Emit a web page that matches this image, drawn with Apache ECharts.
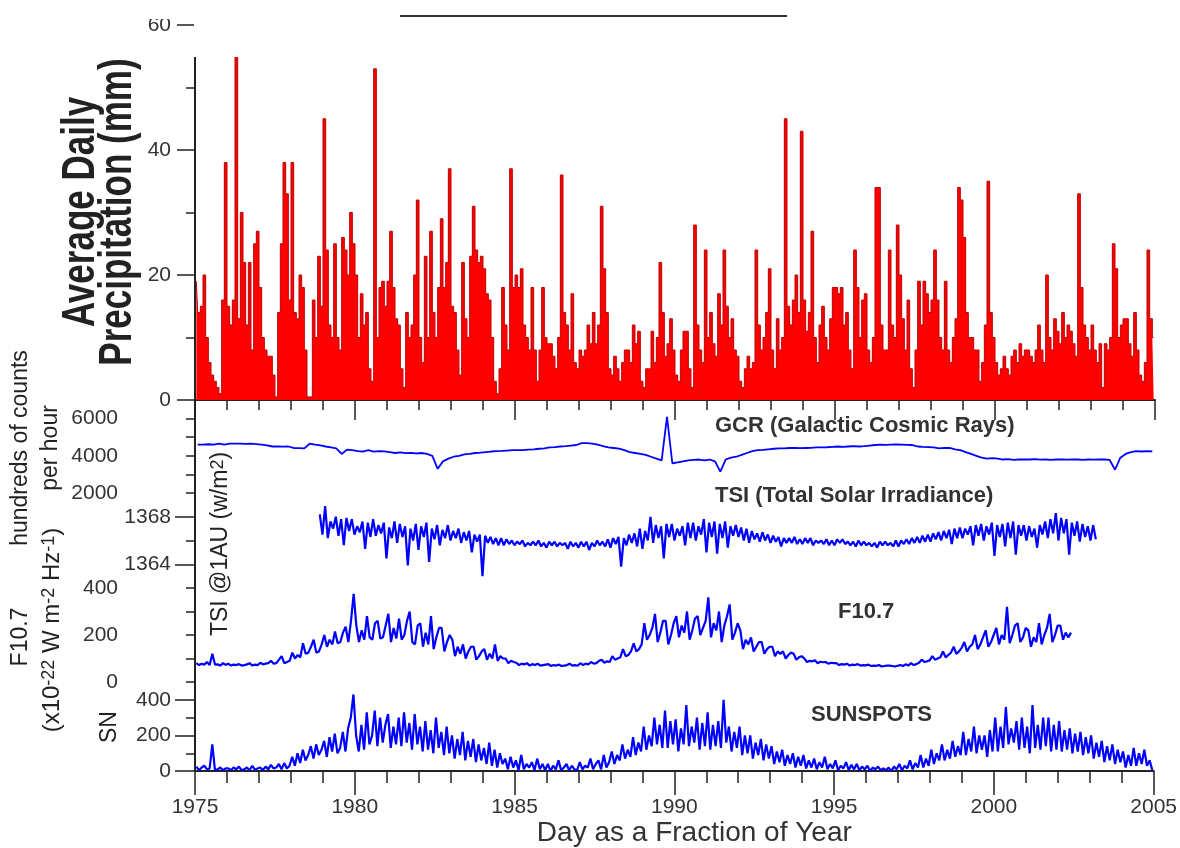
<!DOCTYPE html>
<html><head><meta charset="utf-8">
<script src="https://cdn.jsdelivr.net/npm/echarts@6/dist/echarts.min.js"></script>
<style>html,body{margin:0;padding:0;background:#fff}#c{width:1180px;height:848px}</style>
</head><body><div id="c"></div>
<script>
// ---------------- DATA ----------------
const xTickYears = [1975, 1980, 1985, 1990, 1995, 2000, 2005];

// Average daily precipitation (mm), 12 samples per year, 1975-2004
const precipStart = 1975, precipPerYear = 12;
const precipitation = [
 19,14,15,20,10,6,4,3,2,1,16,38,
 15,12,16,58,13,30,22,12,22,8,25,27,
 18,10,8,7,7,4,0.5,14,25,38,33,16,
 38,14,13,20,18,8,0.5,0.5,16,10,23,15,
 45,24,12,10,25,10,8,26,24,20,30,25,
 20,10,17,12,14,5,3,53,10,18,19,15,
 19,27,18,13,12,5,2,14,10,12,20,32,
 10,6,23,10,27,14,10,18,29,18,22,37,
 15,14,8,4,22,13,10,23,31,24,22,23,
 21,17,16,10,3,1,5,18,12,8,37,18,
 20,18,21,12,10,8,18,8,3,8,18,10,
 9,9,7,5,10,36,14,12,8,17,6,5,
 8,7,8,12,9,14,9,12,31,21,14,5,
 4,7,5,3,6,8,8,6,12,9,11,3,
 2,5,5,11,6,10,22,14,7,9,13,8,
 4,3,8,11,11,5,2,28,12,8,6,24,
 10,14,9,7,17,12,24,15,10,13,8,7,
 3,2,5,7,5,6,24,12,8,10,14,21,
 8,5,13,8,10,45,15,12,16,20,14,43,
 16,11,14,27,10,6,12,15,10,8,13,18,
 18,17,18,12,14,8,5,24,18,10,16,17,
 8,6,10,34,34,12,8,8,24,12,10,28,
 20,13,8,16,5,2,8,19,12,19,17,14,
 16,24,16,10,8,19,8,6,10,13,34,32,
 26,14,10,10,8,8,3,6,12,35,14,10,
 6,4,5,7,5,4,7,8,6,9,7,8,
 8,7,6,8,12,8,6,20,10,8,13,11,
 9,14,10,12,11,9,7,33,18,12,10,8,
 12,8,6,9,2,9,8,10,25,21,10,12,
 13,13,9,7,14,8,4,3,6,24,13,10
];

// GCR (hundreds of counts per hour), 6 samples per year, 1975-2004
const gcrStart = 1975, gcrPerYear = 6;
const gcr = [
 4600,4600,4620,4600,4650,4600, 4650,4650,4650,4640,4650,4630,
 4600,4560,4500,4500,4490,4500, 4420,4410,4400,4650,4600,4560,
 4500,4450,4400,4100,4330,4300, 4250,4230,4300,4220,4250,4240,
 4200,4150,4180,4140,4150,4130, 4150,4100,4000,3300,3700,3850,
 3950,4000,4080,4100,4150,4170, 4200,4230,4250,4260,4280,4300,
 4300,4310,4330,4350,4380,4400, 4450,4470,4500,4520,4550,4580,
 4680,4680,4650,4600,4520,4450, 4420,4380,4300,4200,4150,4100,
 4050,3950,3850,3750,6100,3600, 3650,3700,3750,3780,3800,3750,
 3800,3700,3150,3800,3900,3950, 4050,4150,4250,4300,4320,4350,
 4380,4400,4400,4420,4420,4410, 4420,4430,4450,4450,4460,4480,
 4500,4480,4500,4520,4500,4520, 4550,4580,4600,4590,4600,4610,
 4600,4590,4580,4500,4480,4470, 4450,4400,4430,4420,4350,4300,
 4200,4100,4000,3900,3850,3870, 3850,3800,3820,3780,3800,3810,
 3800,3820,3790,3800,3780,3800, 3800,3790,3810,3800,3780,3800,
 3790,3800,3800,3780,3250,3900, 4100,4200,4250,4230,4250,4240
];

// TSI @1AU (W/m2), 12 samples per year starting 1978.9
const tsiStart = 1978.9, tsiPerYear = 12;
const tsi = [
 1368.2,1366.5,1368.9,1366.2,1367.6,1367.0,1368.0,1366.4,1367.8,1365.6,1367.9,1366.8,
 1367.8,1366.5,1367.2,1366.7,1367.6,1365.3,1367.5,1366.3,1367.8,1366.4,1367.3,1366.6,
 1367.5,1364.5,1367.1,1366.2,1367.6,1365.8,1367.4,1366.3,1367.2,1363.9,1367.0,1366.0,
 1367.4,1365.2,1367.2,1366.3,1367.5,1364.2,1367.0,1366.1,1367.3,1365.6,1366.9,1366.2,
 1367.3,1366.0,1366.8,1366.2,1367.0,1365.8,1366.7,1366.0,1366.8,1365.0,1366.5,1365.9,
 1366.5,1363.0,1366.4,1365.8,1366.3,1365.7,1366.2,1365.6,1366.2,1365.6,1366.1,1365.7,
 1366.0,1365.6,1365.9,1365.7,1366.0,1365.5,1365.8,1365.6,1365.9,1365.6,1366.0,1365.5,
 1365.8,1365.4,1365.9,1365.6,1365.9,1365.5,1365.8,1365.6,1365.8,1365.3,1365.9,1365.5,
 1365.8,1365.4,1365.9,1365.5,1365.9,1365.2,1365.8,1365.5,1366.0,1365.6,1365.9,1365.5,
 1366.1,1365.4,1366.2,1365.7,1366.3,1363.8,1366.2,1365.6,1366.5,1365.8,1366.6,1365.5,
 1367.0,1365.3,1366.8,1366.0,1368.0,1365.8,1367.3,1366.2,1367.2,1364.5,1367.4,1366.3,
 1367.4,1366.0,1367.0,1366.4,1367.2,1365.6,1367.5,1366.2,1367.5,1366.0,1367.2,1366.5,
 1367.8,1365.0,1367.5,1366.3,1367.6,1364.9,1367.4,1366.2,1367.6,1365.4,1367.2,1366.4,
 1367.3,1366.3,1367.1,1366.0,1367.0,1365.8,1366.8,1366.1,1366.6,1365.9,1366.7,1366.0,
 1366.5,1365.8,1366.4,1365.9,1366.3,1365.5,1366.2,1365.8,1366.2,1365.8,1366.3,1365.7,
 1366.1,1365.7,1366.2,1365.8,1366.2,1365.6,1366.0,1365.8,1366.0,1365.7,1366.1,1365.6,
 1366.0,1365.6,1366.1,1365.8,1366.1,1365.7,1365.9,1365.6,1365.9,1365.5,1366.0,1365.6,
 1365.9,1365.6,1365.8,1365.5,1365.8,1365.4,1365.9,1365.6,1365.9,1365.6,1365.8,1365.5,
 1366.0,1365.5,1366.0,1365.7,1366.1,1365.7,1366.2,1365.8,1366.3,1365.8,1366.4,1365.9,
 1366.5,1365.9,1366.6,1366.1,1366.7,1366.0,1366.8,1366.2,1366.9,1365.7,1367.0,1366.2,
 1367.1,1366.2,1367.0,1366.5,1367.2,1365.6,1367.3,1366.4,1367.4,1366.0,1367.2,1366.5,
 1367.5,1364.7,1367.3,1366.3,1367.4,1365.5,1367.5,1366.2,1367.6,1364.8,1367.3,1366.4,
 1367.3,1366.0,1367.2,1366.3,1367.0,1365.4,1367.3,1366.5,1367.6,1366.2,1367.8,1366.6,
 1368.3,1366.0,1367.9,1366.6,1367.8,1364.8,1367.5,1366.4,1367.6,1365.9,1367.4,1366.3,
 1367.2,1366.0,1367.3,1366.1
];

// F10.7 radio flux, 12 samples per year, 1975-2002.4
const f107Start = 1975, f107PerYear = 12;
const f107 = [
 80,72,78,74,85,72,120,74,75,70,80,73,
 78,70,74,72,76,70,72,75,80,70,74,72,
 82,75,78,80,90,78,80,95,110,80,85,90,
 125,100,115,105,165,120,125,150,180,125,130,160,
 200,150,180,160,215,165,170,210,235,170,260,375,
 240,170,220,180,280,190,180,250,260,185,190,240,
 290,170,230,185,270,180,200,260,300,170,160,240,
 250,150,210,160,280,140,190,230,230,130,170,200,
 180,110,150,120,160,100,130,150,150,95,110,130,
 140,95,120,100,160,90,110,100,100,80,90,85,
 82,72,78,75,80,70,76,72,78,70,72,74,
 76,68,72,70,74,68,70,72,78,70,72,69,
 80,72,78,75,85,78,80,90,95,82,88,85,
 110,95,100,105,140,110,115,130,165,130,140,160,
 250,180,200,230,290,170,210,260,260,160,200,250,
 280,190,240,210,300,180,220,270,280,200,230,260,
 360,190,250,220,300,170,240,280,330,180,210,250,
 220,140,180,160,190,130,150,170,170,120,140,150,
 150,110,130,120,130,100,115,125,120,95,105,110,
 100,85,90,88,92,80,86,84,85,78,82,80,
 80,72,76,74,78,70,74,72,76,70,72,71,
 74,68,70,69,72,66,68,70,70,68,66,69,
 72,68,75,70,80,72,76,82,95,85,88,92,
 110,95,100,105,130,105,115,125,150,120,130,145,
 170,130,150,160,200,140,160,190,220,150,170,200,
 230,160,200,180,320,165,200,240,250,170,190,230,
 220,150,190,170,250,160,200,230,290,170,200,240,
 240,180,210,190,210
];

// Sunspot number, 12 samples per year, 1975-2004
const snStart = 1975, snPerYear = 12;
const sunspots = [
 25,5,20,30,10,15,150,5,10,20,5,15,
 15,5,20,10,25,5,10,20,5,30,8,15,
 20,5,25,10,35,15,20,40,10,45,15,30,
 80,30,100,45,120,60,90,140,70,150,90,120,
 170,80,190,110,210,100,130,220,110,240,300,430,
 200,110,260,120,330,150,200,340,140,300,160,260,
 320,130,250,150,300,140,330,160,270,120,320,150,
 250,110,280,120,230,100,300,130,220,90,250,100,
 200,70,180,90,220,60,170,80,180,50,150,60,
 130,40,160,30,120,20,100,40,70,10,80,20,
 60,5,90,10,40,20,50,5,70,10,40,5,
 40,0,30,10,60,5,20,40,5,30,10,5,
 50,10,30,20,70,10,40,60,10,90,20,50,
 110,40,90,60,150,70,120,80,190,90,160,110,
 250,120,200,140,300,150,260,130,340,130,280,150,
 290,110,240,150,370,140,250,160,300,120,270,140,
 330,120,260,140,280,130,400,160,250,110,220,130,
 250,90,200,100,200,70,160,90,180,60,150,70,
 140,40,110,50,120,30,90,40,100,20,80,30,
 90,15,60,20,70,10,50,20,80,10,40,15,
 60,5,30,15,50,5,35,10,40,5,25,10,
 30,0,20,10,25,5,15,5,20,0,25,10,
 40,5,30,15,60,10,45,20,90,20,70,30,
 120,40,100,60,150,60,120,70,170,80,140,90,
 220,90,180,110,250,100,200,120,200,80,230,110,
 300,110,250,130,360,150,240,160,280,120,300,130,
 250,100,370,130,260,120,300,140,300,110,260,120,
 280,110,230,120,240,100,210,110,220,90,190,100,
 200,70,160,80,170,50,140,60,150,40,120,50,
 110,20,90,30,130,30,100,40,120,30,60,5
];

// tick labels shown on each y scale
const precipTickLabels = [0, 20, 40, 60];
const gcrTickLabels = [2000, 4000, 6000];
const tsiTickLabels = [1364, 1368];
const f107TickLabels = [0, 200, 400];
const snTickLabels = [0, 200, 400];

// ---------------- CHART ----------------
const FONT = "'Liberation Sans', Arial, sans-serif";
const INK = '#222';
const BLUE = '#0000ff';

function centred(arr, start, perYear) { return arr.map((v, i) => [start + (i + 0.5) / perYear, v]); }
function stepped(arr, start, perYear) { return arr.map((v, i) => [start + i / perYear, v]); }

const axLine = { show: true, onZero: false, lineStyle: { color: INK, width: 2 } };
const tickStyle = { color: INK, width: 1.5 };
const labelBase = { color: '#333', fontSize: 21, fontFamily: FONT };

function xAx(gi, extra) {
  return Object.assign({ type: 'value', gridIndex: gi, min: 1975, max: 2005, interval: 5, splitLine: { show: false } }, extra);
}
function yAx(gi, min, max, extra) {
  return Object.assign({ type: 'value', gridIndex: gi, min: min, max: max, position: 'left', splitLine: { show: false }, axisLine: axLine }, extra);
}
function only(list) { return v => list.indexOf(v) >= 0 ? String(v) : ''; }

const grids = [
  { left: 195, right: 25, top: 25, height: 375 },
  { left: 195, right: 25, top: 400, height: 93 },
  { left: 195, right: 25, top: 493, height: 95 },
  { left: 195, right: 25, top: 588, height: 94 },
  { left: 195, right: 25, top: 682, height: 93 }
];

const xAxes = [
  xAx(0, { axisLine: axLine, axisTick: { show: true, length: 20, lineStyle: tickStyle },
           minorTick: { show: true, splitNumber: 5, length: 10, lineStyle: tickStyle }, axisLabel: { show: false } }),
  xAx(1, { show: false }), xAx(2, { show: false }), xAx(3, { show: false }),
  xAx(4, { axisLine: axLine, axisTick: { show: true, length: 24, lineStyle: tickStyle },
           minorTick: { show: true, splitNumber: 5, length: 12, lineStyle: tickStyle },
           axisLabel: Object.assign({}, labelBase, { margin: 26, formatter: only(xTickYears) }),
           name: 'Day as a Fraction of Year', nameLocation: 'middle', nameGap: 47,
           nameTextStyle: { fontSize: 28, fontFamily: FONT, color: '#333', padding: [0, 0, 0, 40] } })
];

const yAxes = [
  yAx(0, 0, 60, { interval: 20, axisTick: { show: true, length: 18, lineStyle: tickStyle },
    minorTick: { show: true, splitNumber: 2, length: 9, lineStyle: tickStyle },
    axisLabel: Object.assign({}, labelBase, { margin: 24, formatter: only(precipTickLabels) }) }),
  yAx(1, 2000, 7000, { interval: 1000, axisTick: { show: true, length: 9, lineStyle: tickStyle },
    axisLabel: Object.assign({}, labelBase, { margin: 77, formatter: only(gcrTickLabels) }) }),
  yAx(2, 1362, 1370, { interval: 2, axisTick: { show: true, length: 9, lineStyle: tickStyle }, axisLabel: { show: false } }),
  yAx(2, 1362, 1370, { axisLine: { show: false }, axisTick: { show: true, length: 20, customValues: tsiTickLabels, lineStyle: tickStyle },
    axisLabel: Object.assign({}, labelBase, { margin: 24, customValues: tsiTickLabels, formatter: v => String(v) }) }),
  yAx(3, 0, 400, { interval: 100, axisTick: { show: true, length: 9, lineStyle: tickStyle },
    axisLabel: Object.assign({}, labelBase, { margin: 77, formatter: only(f107TickLabels) }) }),
  yAx(4, 0, 500, { interval: 100, axisTick: { show: true, length: 9, lineStyle: tickStyle }, axisLabel: { show: false } }),
  yAx(4, 0, 500, { axisLine: { show: false }, axisTick: { show: true, length: 20, customValues: snTickLabels, lineStyle: tickStyle },
    axisLabel: Object.assign({}, labelBase, { margin: 24, customValues: snTickLabels, formatter: v => String(v) }) })
];

function blueLine(name, xi, yi, data, width) {
  return { name: name, type: 'line', xAxisIndex: xi, yAxisIndex: yi, data: data, showSymbol: false, symbol: 'none',
           lineStyle: { color: BLUE, width: width }, itemStyle: { color: BLUE }, clip: true };
}

const series = [
  { name: 'Precipitation', type: 'line', step: 'middle', xAxisIndex: 0, yAxisIndex: 0,
    data: centred(precipitation, precipStart, precipPerYear),
    showSymbol: false, symbol: 'none', lineStyle: { color: '#c00000', width: 1 }, areaStyle: { color: '#ff0000', opacity: 1 },
    itemStyle: { color: '#ff0000' }, clip: true },
  blueLine('GCR', 1, 1, centred(gcr, gcrStart, gcrPerYear), 1.8),
  blueLine('TSI', 2, 2, stepped(tsi, tsiStart, tsiPerYear), 2.2),
  blueLine('F10.7', 3, 4, centred(f107, f107Start, f107PerYear), 2.2),
  blueLine('Sunspots', 4, 5, centred(sunspots, snStart, snPerYear), 2.2)
];

function rotText(text, x, y, font, rich, sy) {
  const st = { text: text, font: font, fill: INK, align: 'center', verticalAlign: 'middle' };
  if (rich) st.rich = rich;
  return { type: 'text', x: x, y: y, rotation: Math.PI / 2, scaleY: sy || 1, silent: true, z: 110, style: st };
}
function boldText(text, x, y) {
  return { type: 'text', x: x, y: y, silent: true, z: 110,
           style: { text: text, font: "bold 22px 'Liberation Sans', Arial, sans-serif", fill: '#333', align: 'left', verticalAlign: 'middle' } };
}
const supStyle = { s: { fontSize: 18, fontFamily: 'Liberation Sans', font: "18px 'Liberation Sans', Arial, sans-serif", verticalAlign: 'top', fill: INK } };
const REG = "23px 'Liberation Sans', Arial, sans-serif";
const REG2 = "24px 'Liberation Sans', Arial, sans-serif";
const BIG = "bold 35px 'Liberation Sans', Arial, sans-serif";

const graphics = [
  { type: 'rect', silent: true, z: 100, shape: { x: 194, y: 21, width: 980, height: 36 }, style: { fill: '#fff' } },
  { type: 'rect', silent: true, z: 100, shape: { x: 120, y: 0, width: 80, height: 19 }, style: { fill: '#fff' } },
  { type: 'line', silent: true, z: 101, shape: { x1: 400, y1: 16, x2: 787, y2: 16 }, style: { stroke: '#333', lineWidth: 2 } },
  rotText('Average Daily', 81, 212, BIG, null, 1.3),
  rotText('Precipitation (mm)', 118, 212, BIG, null, 1.3),
  rotText('hundreds of counts', 21, 448, REG),
  rotText('per hour', 51, 448, REG),
  rotText('F10.7', 21, 637, REG),
  rotText('(x10{s|-22} W m{s|-2} Hz{s|-1})', 52, 630, REG2, supStyle),
  rotText('SN', 110, 727, REG),
  rotText('TSI @1AU (w/m{s|2})', 221, 544, REG, supStyle),
  boldText('GCR (Galactic Cosmic Rays)', 715, 426),
  boldText('TSI (Total Solar Irradiance)', 715, 496),
  boldText('F10.7', 838, 612),
  boldText('SUNSPOTS', 811, 715)
];

const chart = echarts.init(document.getElementById('c'), null, { renderer: 'canvas' });
chart.setOption({
  backgroundColor: '#fff',
  animation: false,
  textStyle: { fontFamily: FONT },
  grid: grids,
  xAxis: xAxes,
  yAxis: yAxes,
  series: series,
  graphic: graphics
});
</script>
</body></html>
